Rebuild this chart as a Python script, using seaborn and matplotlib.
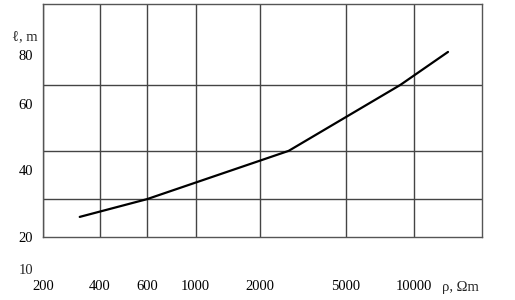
import numpy as np
import pandas as pd
import matplotlib
matplotlib.use("Agg")
import matplotlib.pyplot as plt
import matplotlib.transforms as mtransforms
import seaborn as sns

# ---- data ----
rho = [330, 600, 3000, 9000, 15000]          # resistivity, Ohm*m
ell = [26.0, 31.3, 45.8, 67.8, 81.2]          # length, m
x_ticks = [200, 400, 600, 1000, 2000, 5000, 10000]
x_ticklabels = ["200", "400", "600", "1000", "2000", "5000", "10000"]
y_ticks = [20, 40, 60, 80]
y_ticklabels = ["20", "40", "60", "80"]
y_grid = [31.3, 45.8, 67.8]

# ---- axis scale knots (layout of the hand-drawn axes) ----
x_knot_vals = [200, 400, 600, 1000, 2000, 5000, 10000, 20000]
x_knot_pos = [43, 99.5, 147, 195.5, 260, 346, 414, 482]
y_knot_vals = [10, 20, 40, 60, 80, 100]
y_knot_pos = [-270, -237, -170, -104, -55, -4]


def piecewise(vals, pos):
    vals = np.asarray(vals, float)
    pos = np.asarray(pos, float)

    def f(v):
        v = np.asarray(v, float)
        out = np.interp(v, vals, pos)
        lo_s = (pos[1] - pos[0]) / (vals[1] - vals[0])
        hi_s = (pos[-1] - pos[-2]) / (vals[-1] - vals[-2])
        out = np.where(v < vals[0], pos[0] + (v - vals[0]) * lo_s, out)
        out = np.where(v > vals[-1], pos[-1] + (v - vals[-1]) * hi_s, out)
        return out
    return f


sns.set_theme(style="white")
plt.rcParams["font.family"] = ["Liberation Serif", "DejaVu Serif"]
FS = 10.5

fig = plt.figure(figsize=(5.15, 3.0), dpi=100)
ax = fig.add_axes([43 / 515, 1 - 237 / 300, 439 / 515, 233 / 300])

ax.set_xscale("function", functions=(piecewise(x_knot_vals, x_knot_pos),
                                     piecewise(x_knot_pos, x_knot_vals)))
ax.set_yscale("function", functions=(piecewise(y_knot_vals, y_knot_pos),
                                     piecewise(y_knot_pos, y_knot_vals)))

df = pd.DataFrame({"rho": rho, "ell": ell})
sns.lineplot(data=df, x="rho", y="ell", ax=ax, color="black", lw=1.6,
             sort=False, zorder=3)

ax.set_xlim(200, 20000)
ax.set_ylim(20, 100)

ax.set_xticks(x_ticks)
ax.set_xticklabels(x_ticklabels)
ax.set_yticks(y_ticks)
ax.set_yticklabels(y_ticklabels)
ax.set_yticks(y_grid, minor=True)
ax.set_xticks([], minor=True)

ax.grid(False)
ax.xaxis.grid(True, which="major", color="#444444", lw=1.0)
ax.yaxis.grid(True, which="minor", color="#444444", lw=1.0)
ax.tick_params(axis="both", which="both", length=0, labelsize=FS, colors="black")
ax.tick_params(axis="x", pad=31)
ax.tick_params(axis="y", pad=7)

for s in ax.spines.values():
    s.set_color("#555555")
    s.set_linewidth(1.0)

ax.set_xlabel("")
ax.set_ylabel("")

# extra y label "10" below the frame
trans = mtransforms.blended_transform_factory(ax.transAxes, ax.transData)
ax.annotate("10", xy=(0, 10), xycoords=trans, xytext=(-7, 0),
            textcoords="offset points", ha="right", va="center",
            fontsize=FS, annotation_clip=False)

# axis titles
fig.text(38 / 515, 1 - 37 / 300, "\u2113, m", ha="right", va="center", fontsize=FS)
fig.text(460 / 515, 1 - 287 / 300, "\u03c1, \u03a9m", ha="center", va="center", fontsize=FS)

fig.savefig("out.png", dpi=100)
